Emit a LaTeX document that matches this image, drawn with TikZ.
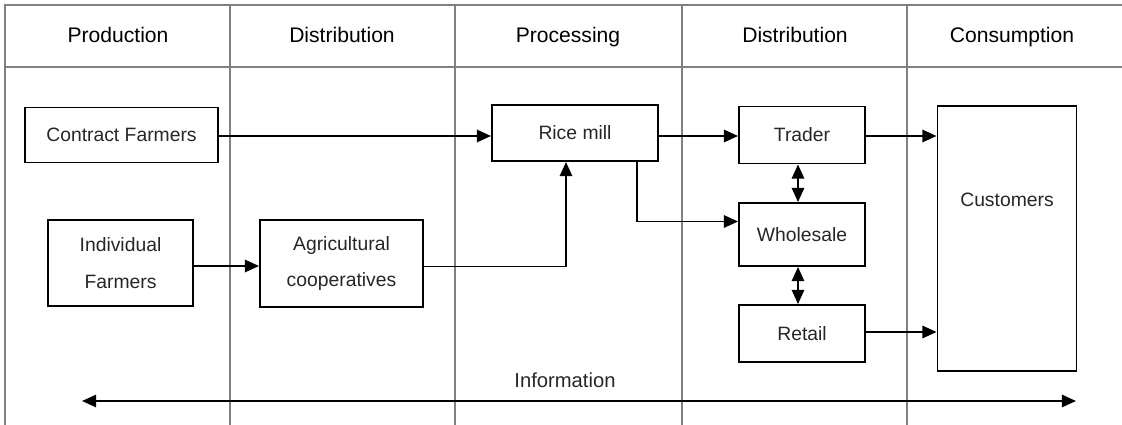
\documentclass[tikz,border=0pt]{standalone}
\usepackage{fontspec}
\setmainfont{Liberation Sans}
\usetikzlibrary{calc, arrows.meta, positioning}

\begin{document}
\begin{tikzpicture}[
  x=0.02cm, y=-0.02cm,
  lane/.style={draw=black!50, line width=1pt},
  head/.style={font=\fontsize{12}{14}\selectfont, text height=9pt, text depth=2.5pt},
  box/.style={
    draw,
    line width=1.1pt,
    rectangle,
    align=center,
    inner sep=0pt,
    text=black!85,
    font=\fontsize{11}{21}\selectfont
    },
  flow/.style={line width=1pt, -{Triangle[length=8pt,width=7pt]}},
  both/.style={line width=1pt, {Triangle[length=8pt,width=7pt]}-{Triangle[length=8pt,width=7pt]}}
]
\useasboundingbox (0,0) rectangle (1122,425);

% Draw lanes
\draw[lane] (5,425) -- (5,5) -- (1122,5);
\draw[lane] (5,67) -- (1122,67);
\foreach \x in {230,455,682,907}
  \draw[lane] (\x,5) -- (\x,425);

\node[head] (hprod) at (118,37) {Production};
\node[head] (hdist) at (342,37) {Distribution};
\node[head] (hproc) at (568,37) {Processing};
\node[head] (hdisttwo) at (795,37) {Distribution};
\node[head] (hcons) at (1012,37) {Consumption};

% Boxes
\node[box, minimum width=193*0.02cm, minimum height=55*0.02cm] (contract) at (121.5,135) {Contract Farmers};
\node[box, minimum width=145*0.02cm, minimum height=86*0.02cm] (indiv) at (120.5,263) {Individual\\Farmers};
\node[box, minimum width=163*0.02cm, minimum height=87*0.02cm] (agri) at (341.5,263.5) {Agricultural\\cooperatives};
\node[box, minimum width=166*0.02cm, minimum height=56*0.02cm] (ricemill) at (575,133) {Rice mill};
\node[box, minimum width=126*0.02cm, minimum height=57*0.02cm] (trader) at (802,135) {Trader};
\node[box, minimum width=126*0.02cm, minimum height=63*0.02cm] (wholesale) at (802,234.5) {Wholesale};
\node[box, minimum width=126*0.02cm, minimum height=57*0.02cm] (retail) at (802,333.5) {Retail};
\node[box, minimum width=139*0.02cm, minimum height=265*0.02cm] (customers) at (1007,238.5) {};
\node[font=\fontsize{11}{13}\selectfont, text=black!85] (custlbl) at (1007,200) {Customers};

% Flows
\draw[flow] ($(contract.east)+(0,1)$) -- ($(contract.east -| ricemill.west)+(0,1)$);
\draw[flow] ($(indiv.east)+(0,3)$) -- ($(agri.west)+(0,2.5)$);
\draw[flow] ($(agri.east)+(0,3)$) -| ($(ricemill.south)+(-9,0)$);
\draw[flow] ($(ricemill.east)+(0,3)$) -- ($(ricemill.east -| trader.west)+(0,3)$);
\draw[flow] ($(ricemill.south)+(62,0)$) |- ($(wholesale.west)+(0,-13)$);
\draw[both] ($(trader.south)+(-4,0)$) -- ($(wholesale.north)+(-4,0)$);
\draw[both] ($(wholesale.south)+(-4,0)$) -- ($(retail.north)+(-4,0)$);
\draw[flow] ($(trader.east)+(0,1)$) -- ($(trader.east -| customers.west)+(0,1)$);
\draw[flow] ($(retail.east)+(0,-1.5)$) -- ($(retail.east -| customers.west)+(0,-1.5)$);

% Information
\coordinate (infoL) at (82,401);
\coordinate (infoR) at (1076,401);
\draw[both] (infoL) -- (infoR);
\node[font=\fontsize{11.5}{13}\selectfont, text=black!85] (info) at (565,380) {Information};

\end{tikzpicture}
\end{document}
